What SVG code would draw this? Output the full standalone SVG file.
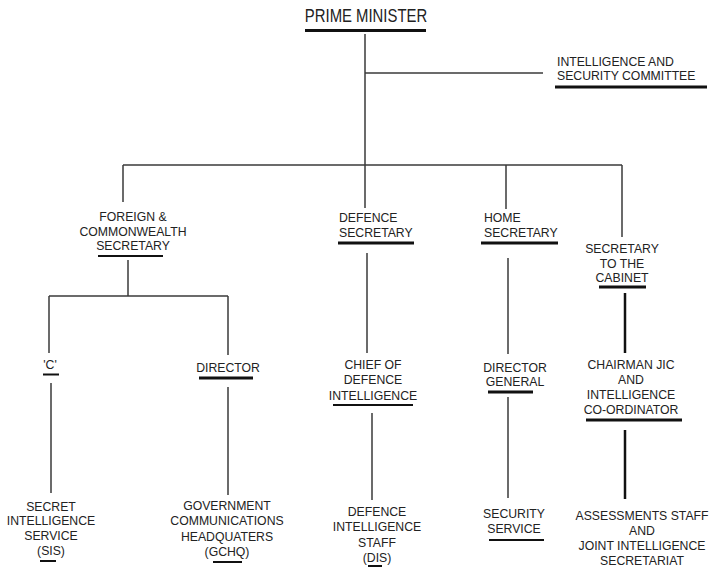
<svg xmlns="http://www.w3.org/2000/svg" width="710" height="567" viewBox="0 0 710 567">
<style>
.t{font-family:"Liberation Sans",Arial,Helvetica,sans-serif;font-size:12.5px;fill:#222;text-anchor:middle}
.s{text-anchor:start}
.u{stroke:#111;stroke-width:3}
.v{stroke:#111;stroke-width:2}
.c{stroke:#3a3a3a;stroke-width:1.5;fill:none}
.k{stroke:#111;stroke-width:2.5;fill:none}
</style>
<rect width="710" height="567" fill="#fff"/>
<g id="connectors">
<line class="c" x1="365" y1="34" x2="365" y2="208"/>
<line class="c" x1="365" y1="73" x2="543" y2="73"/>
<line class="c" x1="123" y1="165" x2="622" y2="165"/>
<line class="c" x1="123" y1="165" x2="123" y2="202"/>
<line class="c" x1="506" y1="165" x2="506" y2="209"/>
<line class="c" x1="622" y1="165" x2="622" y2="237"/>
<line class="c" x1="128" y1="260" x2="128" y2="296"/>
<line class="c" x1="49" y1="296" x2="228" y2="296"/>
<line class="c" x1="49" y1="296" x2="49" y2="353"/>
<line class="c" x1="228" y1="296" x2="228" y2="355"/>
<line class="c" x1="51" y1="383" x2="51" y2="493"/>
<line class="c" x1="228" y1="387" x2="228" y2="495"/>
<line class="c" x1="367" y1="253" x2="367" y2="353"/>
<line class="c" x1="372" y1="413" x2="372" y2="500"/>
<line class="c" x1="508" y1="258" x2="508" y2="354"/>
<line class="c" x1="508" y1="397" x2="508" y2="498"/>
<line class="k" x1="625" y1="293" x2="625" y2="353"/>
<line class="k" x1="625" y1="430" x2="625" y2="499"/>
</g>
<g id="pm">
<g transform="translate(366 0) scale(.85 1)"><text class="t" x="0" y="22" style="font-size:17.5px">PRIME MINISTER</text></g>
<line class="u" x1="305" y1="30.5" x2="426" y2="30.5"/>
</g>
<g id="isc">
<g transform="translate(557 0) scale(.98 1)"><text class="t s" x="0" y="66">INTELLIGENCE AND</text><text class="t s" x="0" y="80">SECURITY COMMITTEE</text></g>
<line class="u" x1="555" y1="87" x2="707" y2="87"/>
</g>
<g id="foreign">
<g transform="translate(133 0) scale(.98 1)"><text class="t" x="0" y="221">FOREIGN &amp;</text><text class="t" x="0" y="236">COMMONWEALTH</text><text class="t" x="0" y="250">SECRETARY</text></g>
<line class="v" x1="98" y1="256" x2="163" y2="256"/>
</g>
<g id="defence">
<g transform="translate(339 0) scale(.98 1)"><text class="t s" x="0" y="222">DEFENCE</text><text class="t s" x="0" y="237">SECRETARY</text></g>
<line class="u" x1="338" y1="243" x2="414" y2="243"/>
</g>
<g id="home">
<g transform="translate(484 0) scale(.98 1)"><text class="t s" x="0" y="222">HOME</text><text class="t s" x="0" y="237">SECRETARY</text></g>
<line class="u" x1="481" y1="243" x2="558" y2="243"/>
</g>
<g id="cabinet">
<g transform="translate(622 0) scale(.98 1)"><text class="t" x="0" y="253">SECRETARY</text><text class="t" x="0" y="268">TO THE</text><text class="t" x="0" y="282">CABINET</text></g>
<line class="u" x1="599" y1="287" x2="646" y2="287"/>
</g>
<g id="c">
<g transform="translate(50 0) scale(.98 1)"><text class="t" x="0" y="369">'C'</text></g>
<line class="v" x1="43" y1="374.5" x2="59" y2="374.5"/>
</g>
<g id="director">
<g transform="translate(228 0) scale(.98 1)"><text class="t" x="0" y="372">DIRECTOR</text></g>
<line class="u" x1="199" y1="378" x2="253" y2="378"/>
</g>
<g id="cdi">
<g transform="translate(373 0) scale(.98 1)"><text class="t" x="0" y="369">CHIEF OF</text><text class="t" x="0" y="384.5">DEFENCE</text><text class="t" x="0" y="400">INTELLIGENCE</text></g>
<line class="v" x1="333" y1="405" x2="413" y2="405"/>
</g>
<g id="dg">
<g transform="translate(515 0) scale(.98 1)"><text class="t" x="0" y="372">DIRECTOR</text><text class="t" x="0" y="386">GENERAL</text></g>
<line class="u" x1="488" y1="392" x2="533" y2="392"/>
</g>
<g id="chairman">
<g transform="translate(631 0) scale(.98 1)"><text class="t" x="0" y="369">CHAIRMAN JIC</text><text class="t" x="0" y="384">AND</text><text class="t" x="0" y="399">INTELLIGENCE</text><text class="t" x="0" y="414">CO-ORDINATOR</text></g>
<line class="u" x1="586" y1="420" x2="682" y2="420"/>
</g>
<g id="sis">
<g transform="translate(51 0) scale(.98 1)"><text class="t" x="0" y="511">SECRET</text><text class="t" x="0" y="525.5">INTELLIGENCE</text><text class="t" x="0" y="540">SERVICE</text><text class="t" x="0" y="555">(SIS)</text></g>
<line class="v" x1="40" y1="561" x2="56" y2="561"/>
</g>
<g id="gchq">
<g transform="translate(227 0) scale(.98 1)"><text class="t" x="0" y="510">GOVERNMENT</text><text class="t" x="0" y="525.5">COMMUNICATIONS</text><text class="t" x="0" y="541">HEADQUATERS</text><text class="t" x="0" y="556">(GCHQ)</text></g>
<line class="v" x1="213" y1="562" x2="242" y2="562"/>
</g>
<g id="dis">
<g transform="translate(377 0) scale(.98 1)"><text class="t" x="0" y="516">DEFENCE</text><text class="t" x="0" y="531.5">INTELLIGENCE</text><text class="t" x="0" y="547">STAFF</text><text class="t" x="0" y="562">(DIS)</text></g>
<line class="v" x1="368" y1="566" x2="382" y2="566"/>
</g>
<g id="ss">
<g transform="translate(514 0) scale(.98 1)"><text class="t" x="0" y="518.5">SECURITY</text><text class="t" x="0" y="533">SERVICE</text></g>
<line class="v" x1="489" y1="540" x2="544" y2="540"/>
</g>
<g id="assess">
<g transform="translate(642 0) scale(.98 1)"><text class="t" x="0" y="520">ASSESSMENTS STAFF</text><text class="t" x="0" y="535">AND</text><text class="t" x="0" y="550">JOINT INTELLIGENCE</text><text class="t" x="0" y="565">SECRETARIAT</text></g>
</g>
</svg>
